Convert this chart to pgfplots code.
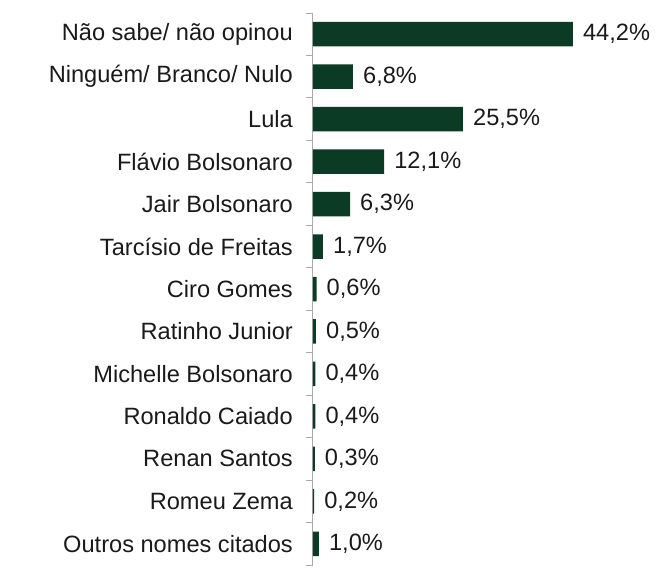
\documentclass[border=0pt]{standalone}
\usepackage{pgfplots}
\pgfplotsset{compat=1.18}
\usepackage{fontspec}
\setmainfont{Liberation Sans}
\definecolor{barra}{RGB}{11,59,36}
\definecolor{eixo}{RGB}{170,170,170}
\definecolor{texto}{RGB}{26,26,26}

\begin{document}
\begin{tikzpicture}
\begin{axis}[
  name=ax,
  xbar, bar width=24.5pt,
  scale only axis, width=294pt, height=552pt,
  xmin=0, xmax=50,
  ymin=-0.5, ymax=12.5, y dir=reverse,
  axis x line=none, axis y line*=left,
  axis line style={eixo, line width=1pt},
  ytick={-0.5,0.5,1.5,2.5,3.5,4.5,5.5,6.5,7.5,8.5,9.5,10.5,11.5,12.5},
  yticklabels={},
  ytick style={draw=eixo, line width=1pt},
  ytick align=outside,
  major tick length=7pt,
  extra y ticks={0,...,12},
  extra y tick labels={Não sabe/ não opinou, Ninguém/ Branco/ Nulo, Lula, Flávio Bolsonaro,
    Jair Bolsonaro, Tarcísio de Freitas, Ciro Gomes, Ratinho Junior,
    Michelle Bolsonaro, Ronaldo Caiado, Renan Santos, Romeu Zema, Outros nomes citados},
  extra y tick style={major tick length=0pt,
    yticklabel style={font=\fontsize{23.6}{28}\selectfont, text=texto, inner sep=0pt, xshift=-20pt}},
  nodes near coords={\pgfmathprintnumber[fixed,fixed zerofill,precision=1,use comma,assume math mode=true]{\pgfplotspointmeta}\%},
  nodes near coords style={anchor=west, inner sep=0pt, xshift=10pt,
    font=\fontsize{23.6}{28}\selectfont, text=texto},
]
\addplot[draw=none, fill=barra] coordinates {
  (44.2,0) (6.8,1) (25.5,2) (12.1,3) (6.3,4) (1.7,5) (0.6,6)
  (0.5,7) (0.4,8) (0.4,9) (0.3,10) (0.2,11) (1.0,12)
};
\end{axis}
\path ([xshift=-313pt,yshift=13pt]ax.north west) rectangle ++(666pt,-571pt);
\end{tikzpicture}
\end{document}
